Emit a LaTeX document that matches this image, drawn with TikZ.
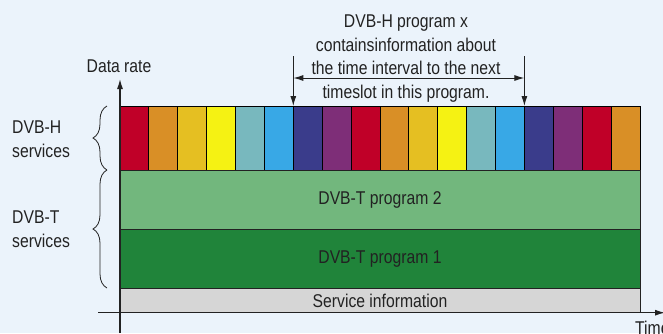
\documentclass[tikz,border=0pt]{standalone}
\usepackage{fontspec}
\setmainfont{Liberation Sans}[FakeStretch=0.85]
\usetikzlibrary{arrows.meta,decorations.pathreplacing}
\definecolor{paper}{HTML}{EBF3FB}
\definecolor{ink}{HTML}{222222}
\definecolor{slred}{HTML}{C00028}
\definecolor{slorange}{HTML}{D98F26}
\definecolor{slgold}{HTML}{E5BF22}
\definecolor{slyellow}{HTML}{F5F213}
\definecolor{slteal}{HTML}{78B8BE}
\definecolor{slsky}{HTML}{38A8E6}
\definecolor{slnavy}{HTML}{3A3C8B}
\definecolor{slpurple}{HTML}{7E2E78}
\definecolor{progtwo}{HTML}{72B77D}
\definecolor{progone}{HTML}{20843A}
\definecolor{siinfo}{HTML}{D6D6D6}
\tikzset{>={Latex[length=10pt,width=6pt]}}
\tikzset{
  band/.style = {draw=ink,line width=1pt,minimum width=520pt,
    inner sep=0pt,outer sep=0pt,anchor=north west,text=ink},
  slot/.style = {draw=black,line width=1pt},
  axis/.style = {draw=ink,line width=1.2pt},
  servbrace/.style = {decorate,decoration={brace,amplitude=14pt},
    draw=ink,line width=0.8pt},
  label/.style = {inner sep=0pt,text=ink}
}

\begin{document}
\begin{tikzpicture}[x=1pt,y=-1pt,font=\fontsize{18.5}{23.6}\selectfont]
  \useasboundingbox (0,0) rectangle (663,333);
  \clip (0,0) rectangle (663,333);
  \fill[paper] (0,0) rectangle (663,333);
  % DVB-H time slots
  \foreach \c [count=\i from 0] in {slred,slorange,slgold,slyellow,slteal,slsky,
      slnavy,slpurple,slred,slorange,slgold,slyellow,slteal,slsky,slnavy,slpurple,
      slred,slorange}
    \draw[slot,fill=\c] (120+\i*28.889,106) rectangle ++(28.889,64);
  % DVB-T programs
  \node[band,fill=progtwo,minimum height=59pt] (prog2) at (120,170) {DVB-T program 2};
  \node[band,fill=progone,minimum height=59.7pt] (prog1) at (120,229) {DVB-T program 1};
  \node[band,fill=siinfo,minimum height=24pt] (si) at (120,288.7) {Service information};
  % axes
  \coordinate (ybot) at (120,333);
  \coordinate (ytop) at (120,79);
  \coordinate (xleft) at (98,312.7);
  \coordinate (xright) at (665,312.7);
  \draw[axis,->] (ybot) -- (ytop);
  \draw[axis,->] (xleft) -- (xright);
  \node[label,anchor=base] (rate) at (119,72) {Data rate};
  \node[label,anchor=base west] (time) at (635,334.4) {Time};
  % service groups
  \draw[servbrace] (107,170) -- (107,106);
  \draw[servbrace] (107,288) -- (107,170);
  \node[label,anchor=north west,align=left] (hserv) at (12,120.7) {DVB-H\\services};
  \node[label,anchor=north west,align=left] (tserv) at (12,210.5) {DVB-T\\services};
  % time interval between slots of program x
  \coordinate (mark6) at (293.3,56);
  \coordinate (slot6) at (293.3,106);
  \coordinate (mark14) at (524.4,56);
  \coordinate (slot14) at (524.4,106);
  \coordinate (gap6) at (293.3,78);
  \coordinate (gap14) at (524.4,78);
  \draw[axis,line width=1pt,->] (mark6) -- (slot6);
  \draw[axis,line width=1pt,->] (mark14) -- (slot14);
  \draw[axis,line width=1pt,<->] (gap6) -- (gap14);
  \node[label,anchor=north,align=center] (note) at (406,14.7)
    {DVB-H program x\\containsinformation about\\the time interval to the next\\timeslot in this program.};
\end{tikzpicture}
\end{document}
